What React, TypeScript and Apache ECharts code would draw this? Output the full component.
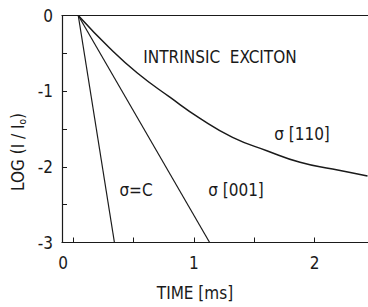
import React, { useEffect, useRef } from "react";
import * as echarts from "echarts";

// time (ms), log(I/I0)
const sigmaC: [number, number][] = [
  [0.04, 0],
  [0.34, -3],
];
const sigma001: [number, number][] = [
  [0.04, 0],
  [1.13, -3],
];
const sigma110: [number, number][] = [
  [0.04, 0],
  [0.3, -0.43],
  [0.53, -0.76],
  [0.8, -1.08],
  [1.05, -1.36],
  [1.32, -1.61],
  [1.61, -1.79],
  [1.88, -1.94],
  [2.15, -2.03],
  [2.44, -2.12],
];
const xTicks = [0, 0.5, 1, 1.5, 2];
const xLabels = [-0.085, 1, 2];
const yTicks = [0, -0.5, -1, -1.5, -2, -2.5, -3];
const yLabels = [0, -1, -2, -3];

const FONT = "'Liberation Sans Narrow', 'DejaVu Sans Condensed', sans-serif";
const INK = "#1a1a1a";

export default function App() {
  const ref = useRef<HTMLDivElement>(null);
  useEffect(() => {
    if (!ref.current) return;
    const chart = echarts.init(ref.current, null, { renderer: "svg" });
    const lineSeries = (name: string, data: [number, number][], w: number, smooth: boolean) => ({
      name,
      type: "line",
      data,
      smooth,
      showSymbol: false,
      lineStyle: { color: INK, width: w },
      xAxisIndex: 0,
      yAxisIndex: 0,
    });
    chart.setOption({
      animation: false,
      backgroundColor: "#ffffff",
      grid: { left: 62, top: 15.5, right: 0, bottom: 64.5 },
      xAxis: [
        {
          type: "value",
          min: -0.095,
          max: 2.444,
          position: "bottom",
          splitLine: { show: false },
          axisLine: { show: true, onZero: false, lineStyle: { color: INK, width: 1.2 } },
          axisTick: { show: true, inside: true, length: 5, customValues: xTicks, lineStyle: { color: INK } },
          axisLabel: {
            show: true,
            customValues: xLabels,
            formatter: (v: number) => String(Math.abs(Math.round(v))),
            margin: 12,
            fontSize: 17,
            fontFamily: FONT,
            color: INK,
          },
        },
        {
          type: "value",
          min: -0.095,
          max: 2.444,
          position: "top",
          splitLine: { show: false },
          axisLine: { show: true, onZero: false, lineStyle: { color: INK, width: 1 } },
          axisTick: { show: false },
          axisLabel: { show: false },
        },
      ],
      yAxis: {
        type: "value",
        min: -3,
        max: 0,
        interval: 1,
        splitLine: { show: false },
        axisLine: { show: true, onZero: false, lineStyle: { color: INK, width: 1.2 } },
        axisTick: { show: true, inside: true, length: 5, customValues: yTicks, lineStyle: { color: INK } },
        axisLabel: {
          show: true,
          customValues: yLabels,
          margin: 9,
          fontSize: 17,
          fontFamily: FONT,
          color: INK,
        },
      },
      series: [
        lineSeries("σ=C", sigmaC, 1.2, false),
        lineSeries("σ[001]", sigma001, 1.2, false),
        lineSeries("σ[110]", sigma110, 1.5, true),
      ],
      graphic: [
        {
          type: "text",
          x: 220,
          y: 57,
          style: { text: "INTRINSIC  EXCITON", font: `17px ${FONT}`, fill: INK, align: "center", verticalAlign: "middle" },
        },
        {
          type: "text",
          x: 302,
          y: 134,
          style: { text: "σ [110]", font: `17px ${FONT}`, fill: INK, align: "center", verticalAlign: "middle" },
        },
        {
          type: "text",
          x: 136,
          y: 190,
          style: { text: "σ=C", font: `17px ${FONT}`, fill: INK, align: "center", verticalAlign: "middle" },
        },
        {
          type: "text",
          x: 236,
          y: 190,
          style: { text: "σ [001]", font: `17px ${FONT}`, fill: INK, align: "center", verticalAlign: "middle" },
        },
        {
          type: "text",
          x: 195,
          y: 293,
          style: { text: "TIME [ms]", font: `17px ${FONT}`, fill: INK, align: "center", verticalAlign: "middle" },
        },
        {
          type: "text",
          x: 18,
          y: 152,
          rotation: Math.PI / 2,
          style: {
            text: "LOG (I / I{s|o})",
            font: `17px ${FONT}`,
            fill: INK,
            align: "center",
            verticalAlign: "middle",
            rich: { s: { fontSize: 10, fontFamily: FONT, fill: INK, verticalAlign: "bottom", padding: [8, 0, 0, 0] } },
          },
        },
      ],
    });
    return () => chart.dispose();
  }, []);
  return (
    <div
      ref={ref}
      style={{ position: "fixed", left: 0, top: 0, width: 368, height: 307, background: "#fff" }}
    />
  );
}
